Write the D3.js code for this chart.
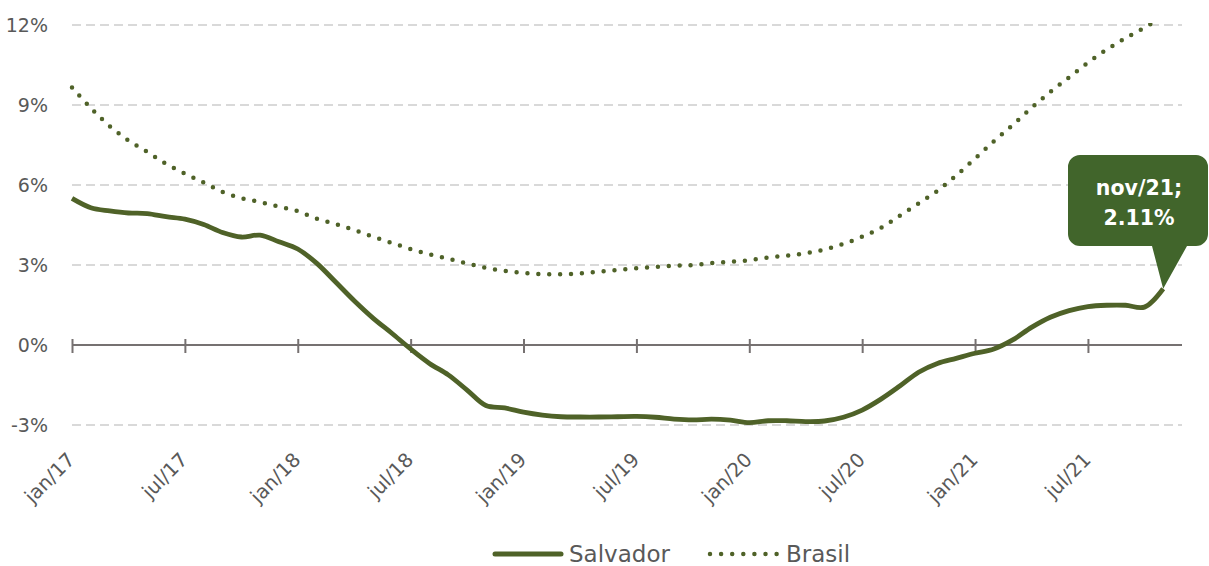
<!DOCTYPE html>
<html>
<head>
<meta charset="utf-8">
<script src="https://cdn.jsdelivr.net/npm/d3@7"></script>
<style>
  html, body { margin: 0; padding: 0; background: #ffffff; }
  svg { display: block; }
  text { font-family: "DejaVu Sans", "Noto Sans", sans-serif; }
</style>
</head>
<body>
<svg id="chart" width="1209" height="566"></svg>
<script>
// ---- DATA ----
const monthNames = ["jan","fev","mar","abr","mai","jun","jul","ago","set","out","nov","dez"];
const years = ["17","18","19","20","21"];
const categories = [];
years.forEach(y => monthNames.forEach(m => categories.push(m + "/" + y)));
categories.splice(categories.indexOf("nov/21") + 1); // jan/17 .. nov/21

const salvador = [
  5.50, 5.15, 5.03, 4.95, 4.93, 4.81, 4.72, 4.52, 4.22, 4.05, 4.12, 3.87,
  3.60, 3.07, 2.37, 1.66, 1.01, 0.44, -0.15, -0.69, -1.12, -1.69, -2.27, -2.36,
  -2.52, -2.63, -2.69, -2.70, -2.70, -2.69, -2.68, -2.71, -2.78, -2.81, -2.78, -2.82,
  -2.91, -2.84, -2.84, -2.87, -2.85, -2.71, -2.44, -2.03, -1.54, -1.02, -0.69, -0.50,
  -0.31, -0.15, 0.19, 0.66, 1.04, 1.29, 1.44, 1.49, 1.49, 1.42, 2.11
];
const brasil = [
  9.66, 8.89, 8.21, 7.67, 7.24, 6.79, 6.43, 6.09, 5.74, 5.51, 5.36, 5.19,
  5.02, 4.74, 4.54, 4.31, 4.06, 3.83, 3.60, 3.40, 3.24, 3.06, 2.89, 2.78,
  2.70, 2.66, 2.65, 2.69, 2.75, 2.81, 2.88, 2.93, 2.97, 3.00, 3.07, 3.12,
  3.18, 3.28, 3.35, 3.44, 3.58, 3.79, 4.06, 4.39, 4.85, 5.31, 5.78, 6.36,
  6.99, 7.64, 8.25, 8.89, 9.49, 10.04, 10.59, 11.08, 11.51, 11.90, 12.30
];
const xTickLabels = ["jan/17","jul/17","jan/18","jul/18","jan/19","jul/19","jan/20","jul/20","jan/21","jul/21"];
const yTicks = [-3, 0, 3, 6, 9, 12];
const seriesNames = ["Salvador", "Brasil"];
const callout = { label: "nov/21;", value: "2.11%" };

// ---- LAYOUT ----
const svg = d3.select("#chart");
const mLeft = 72, mRight = 1182, mTop = 25, mBottom = 425;
const green = "#4f6228";
const calloutFill = "#41652b";
const textGrey = "#595959";
const FONT = "'DejaVu Sans', 'Noto Sans', sans-serif";

const x = d3.scaleLinear().domain([0, categories.length]).range([mLeft, mRight]);
const y = d3.scaleLinear().domain([-3, 12]).range([mBottom, mTop]);

// gridlines
svg.append("g").selectAll("line")
  .data(yTicks.filter(v => v !== 0))
  .join("line")
  .attr("x1", mLeft).attr("x2", mRight)
  .attr("y1", d => y(d)).attr("y2", d => y(d))
  .attr("stroke", "#d9d9d9").attr("stroke-width", 2)
  .attr("stroke-dasharray", "9,5");

// y axis labels
const yAxis = d3.axisLeft(y).tickValues(yTicks).tickSize(0).tickPadding(0)
  .tickFormat(d => d + "%");
const gy = svg.append("g").attr("transform", `translate(${48},0)`).call(yAxis);
gy.select(".domain").remove();
gy.selectAll("text").attr("fill", textGrey).attr("font-size", 19)
  .attr("font-family", FONT)
  .attr("dy", "0.36em");

// x axis at 0%
const tickIdx = xTickLabels.map(l => categories.indexOf(l));
const xAxis = d3.axisBottom(x).tickValues(tickIdx).tickSize(0).tickFormat("");
const gx = svg.append("g").attr("transform", `translate(0,${y(0)})`).call(xAxis);
gx.select(".domain").attr("stroke", "#767171").attr("stroke-width", 2)
  .attr("d", `M${mLeft},0H${mRight}`);
gx.selectAll(".tick line").remove();
gx.selectAll(".tick").append("line")
  .attr("y1", -6).attr("y2", 8)
  .attr("stroke", "#767171").attr("stroke-width", 2);

// x tick labels, rotated
svg.append("g").selectAll("text")
  .data(xTickLabels)
  .join("text")
  .attr("transform", d => `translate(${x(categories.indexOf(d)) + 4},${461}) rotate(-45)`)
  .attr("text-anchor", "end")
  .attr("fill", textGrey)
  .attr("font-size", 19.5)
  .attr("font-family", FONT)
  .text(d => d);

// clip
svg.append("clipPath").attr("id", "plotclip")
  .append("rect").attr("x", 0).attr("y", mTop - 2).attr("width", 1209).attr("height", 520);

const line = d3.line()
  .x((d, i) => x(i))
  .y(d => y(d))
  .curve(d3.curveCatmullRom.alpha(0.5));

// Brasil dotted
svg.append("path")
  .datum(brasil)
  .attr("clip-path", "url(#plotclip)")
  .attr("d", line)
  .attr("fill", "none")
  .attr("stroke", green)
  .attr("stroke-width", 4.5)
  .attr("stroke-linecap", "round")
  .attr("stroke-dasharray", "0,10.9");

// Salvador solid
svg.append("path")
  .datum(salvador)
  .attr("d", line)
  .attr("fill", "none")
  .attr("stroke", green)
  .attr("stroke-width", 4.8)
  .attr("stroke-linejoin", "round");

// callout
const last = salvador.length - 1;
const tipX = x(last), tipY = y(salvador[last]);
const bx0 = 1068, bx1 = 1208, by0 = 155, by1 = 246, r = 12;
const tailL = 1152, tailR = 1187;
const p = d3.path();
p.moveTo(bx0 + r, by0);
p.lineTo(bx1 - r, by0);
p.arcTo(bx1, by0, bx1, by0 + r, r);
p.lineTo(bx1, by1 - r);
p.arcTo(bx1, by1, bx1 - r, by1, r);
p.lineTo(tailR, by1);
p.lineTo(tipX, tipY);
p.lineTo(tailL, by1);
p.lineTo(bx0 + r, by1);
p.arcTo(bx0, by1, bx0, by1 - r, r);
p.lineTo(bx0, by0 + r);
p.arcTo(bx0, by0, bx0 + r, by0, r);
p.closePath();
svg.append("path").attr("d", p.toString()).attr("fill", calloutFill);

svg.append("text").attr("x", 1139).attr("y", 195).attr("text-anchor", "middle")
  .attr("fill", "#ffffff").attr("font-size", 20.5).attr("font-weight", 700)
  .attr("font-family", FONT)
  .text(callout.label);
svg.append("text").attr("x", 1139).attr("y", 225).attr("text-anchor", "middle")
  .attr("fill", "#ffffff").attr("font-size", 20.5).attr("font-weight", 700)
  .attr("font-family", FONT)
  .text(callout.value);

// legend
const lg = svg.append("g");
lg.append("line").attr("x1", 495).attr("x2", 561).attr("y1", 554).attr("y2", 554)
  .attr("stroke", green).attr("stroke-width", 5).attr("stroke-linecap", "round");
lg.append("text").attr("x", 569).attr("y", 554).attr("dy", "0.36em")
  .attr("fill", textGrey).attr("font-size", 23).attr("font-family", FONT).text(seriesNames[0]);
lg.append("line").attr("x1", 710).attr("x2", 777).attr("y1", 554).attr("y2", 554)
  .attr("stroke", green).attr("stroke-width", 4.5).attr("stroke-linecap", "round")
  .attr("stroke-dasharray", "0,11.1");
lg.append("text").attr("x", 786).attr("y", 554).attr("dy", "0.36em")
  .attr("fill", textGrey).attr("font-size", 23).attr("font-family", FONT).text(seriesNames[1]);
</script>
</body>
</html>
